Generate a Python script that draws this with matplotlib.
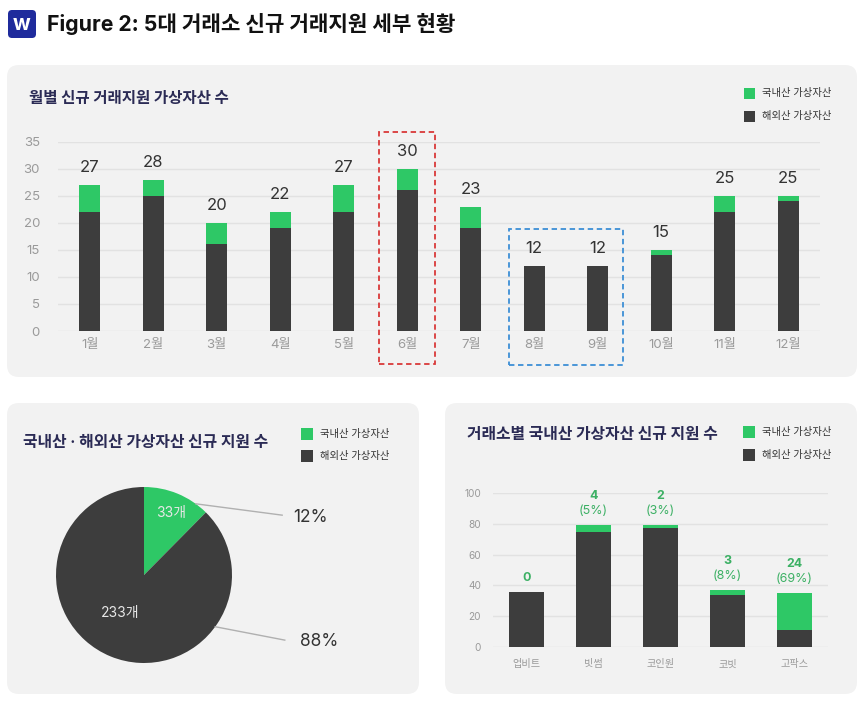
import matplotlib
matplotlib.use('Agg')
import matplotlib.pyplot as plt
from matplotlib.patches import FancyBboxPatch, Rectangle
import numpy as np

plt.rcParams['font.family'] = ['Inter', 'Noto Sans CJK KR', 'DejaVu Sans']

# ---------------- data ----------------
months = ['1월', '2월', '3월', '4월', '5월', '6월', '7월', '8월', '9월', '10월', '11월', '12월']
domestic_monthly = [5, 3, 4, 3, 5, 4, 4, 0, 0, 1, 3, 1]
foreign_monthly = [22, 25, 16, 19, 22, 26, 19, 12, 12, 14, 22, 24]

series_names = ['국내산 가상자산', '해외산 가상자산']
pie_values = [33, 233]

exchanges = ['업비트', '빗썸', '코인원', '코빗', '고팍스']
domestic_ex = [0, 4, 2, 3, 24]
foreign_ex = [36, 75, 77, 34, 11]

month_ticks = [0, 5, 10, 15, 20, 25, 30, 35]
ex_ticks = [0, 20, 40, 60, 80, 100]

# ---------------- style ----------------
GREEN = '#2ec866'
DARK = '#3d3d3d'
NAVY = '#2b2b55'
PANEL = '#f2f2f2'
GRID = '#e2e2e2'
TICK = '#9a9a9a'

W, H = 862, 707
fig = plt.figure(figsize=(W / 100, H / 100), dpi=100)
fig.patch.set_facecolor('white')
bg = fig.add_axes([0, 0, 1, 1])
bg.set_xlim(0, W)
bg.set_ylim(H, 0)
bg.axis('off')


def panel(x0, y0, x1, y1):
    bg.add_patch(FancyBboxPatch((x0, y0), x1 - x0, y1 - y0,
                                boxstyle='round,pad=0,rounding_size=12',
                                fc=PANEL, ec='none'))


def px_axes(x0, y0, x1, y1):
    return fig.add_axes([x0 / W, 1 - y1 / H, (x1 - x0) / W, (y1 - y0) / H])


def legend(x, y0, dy, size, fs):
    for i, (name, col) in enumerate(zip(series_names, [GREEN, DARK])):
        cy = y0 + i * dy
        bg.add_patch(Rectangle((x, cy - size / 2), size, size, fc=col, ec='none'))
        bg.text(x + size + 7, cy, name, fontsize=fs, color='#333333', va='center', ha='left')


def style_axes(ax, ticks, lsize, ypad, xpad):
    ax.set_facecolor('none')
    for s in ax.spines.values():
        s.set_visible(False)
    ax.set_yticks(ticks)
    ax.set_ylim(ticks[0], ticks[-1])
    ax.set_axisbelow(True)
    ax.yaxis.grid(True, color=GRID, lw=1)
    ax.tick_params(axis='both', length=0, colors=TICK, labelsize=lsize)
    ax.tick_params(axis='y', pad=ypad)
    ax.tick_params(axis='x', pad=xpad)


# panels
panel(7, 65, 857, 377)
panel(7, 403, 419, 694)
panel(445, 403, 857, 694)

# header
bg.add_patch(FancyBboxPatch((8, 10), 28, 28, boxstyle='round,pad=0,rounding_size=4',
                            fc='#1f2b9c', ec='none'))
bg.text(22, 24, 'w', color='white', fontsize=15, fontweight='bold', ha='center', va='center')
bg.text(47, 24, 'Figure 2: 5대 거래소 신규 거래지원 세부 현황', fontsize=15.3,
        fontweight='bold', color='#111111', ha='left', va='center')

# ---------------- top chart ----------------
bg.text(29, 99, '월별 신규 거래지원 가상자산 수', fontsize=11.2, fontweight='bold',
        color=NAVY, ha='left', va='center')
legend(744, 93, 23, 11, 7.4)

ax1 = px_axes(58, 141.7, 820, 331)
x = np.arange(len(months))
ax1.bar(x, foreign_monthly, width=0.33, color=DARK)
ax1.bar(x, domestic_monthly, bottom=foreign_monthly, width=0.33, color=GREEN)
totals = [d + f for d, f in zip(domestic_monthly, foreign_monthly)]
for xi, t in zip(x, totals):
    ax1.annotate(str(t), (xi, t), xytext=(0, 12.5), textcoords='offset points',
                 ha='center', va='center', fontsize=12, color='#333333')
ax1.set_xticks(x)
ax1.set_xticklabels(months)
ax1.set_xlim(-0.5, len(months) - 0.5)
style_axes(ax1, month_ticks, 9.5, 13, 6)

# highlight boxes
ax1.add_patch(Rectangle((5 - 0.44, -6.1), 0.88, 42.9, fill=False, ec='#d93a3a',
                        ls=(0, (3, 2)), lw=1.3, clip_on=False))
ax1.add_patch(Rectangle((6.61, -6.3), 1.78, 25.2, fill=False, ec='#3d8fd6',
                        ls=(0, (3, 2)), lw=1.3, clip_on=False))

# ---------------- pie ----------------
bg.text(23, 442, '국내산 · 해외산 가상자산 신규 지원 수', fontsize=11.4, fontweight='bold',
        color=NAVY, ha='left', va='center')
legend(301, 434, 22, 12, 7.4)

ax2 = px_axes(56, 487, 232, 663)
ax2.pie(pie_values, colors=[GREEN, DARK], startangle=90, counterclock=False,
        radius=1, wedgeprops=dict(linewidth=0))
ax2.set_xlim(-1, 1)
ax2.set_ylim(-1, 1)
ax2.set_aspect('equal')
total_pie = sum(pie_values)
inner_pos = [(0.31, 0.70), (-0.27, -0.43)]
line_start_deg = [54, -36]
line_end = [(1.57, 0.68), (1.60, -0.74)]
pct_pos = [(1.69, 0.65), (1.77, -0.76)]
for v, ip, a, le, pp in zip(pie_values, inner_pos, line_start_deg, line_end, pct_pos):
    ax2.text(ip[0], ip[1], f'{v}개', color='#e8e8e8', fontsize=10, ha='center', va='center')
    r = np.deg2rad(a)
    ax2.plot([np.cos(r), le[0]], [np.sin(r), le[1]], color='#b0b0b0', lw=1, clip_on=False)
    ax2.text(pp[0], pp[1], f'{round(v / total_pie * 100)}%', color='#333333',
             fontsize=12.5, ha='left', va='center')

# ---------------- exchange chart ----------------
bg.text(467, 435, '거래소별 국내산 가상자산 신규 지원 수', fontsize=11.4, fontweight='bold',
        color=NAVY, ha='left', va='center')
legend(743, 432, 23, 12, 7.4)

ax3 = px_axes(493, 493, 828, 647)
xe = np.arange(len(exchanges))
ax3.bar(xe, foreign_ex, width=0.53, color=DARK)
ax3.bar(xe, domestic_ex, bottom=foreign_ex, width=0.53, color=GREEN)
for xi, d, f in zip(xe, domestic_ex, foreign_ex):
    t = d + f
    if d > 0:
        ax3.annotate(str(d), (xi, t), xytext=(0, 21), textcoords='offset points',
                     ha='center', va='center', fontsize=9, fontweight='bold', color='#3cb064')
        ax3.annotate(f'({round(d / t * 100)}%)', (xi, t), xytext=(0, 10),
                     textcoords='offset points', ha='center', va='center',
                     fontsize=9, color='#3cb064')
    else:
        ax3.annotate(str(d), (xi, t), xytext=(0, 10), textcoords='offset points',
                     ha='center', va='center', fontsize=9, fontweight='bold', color='#3cb064')
ax3.set_xticks(xe)
ax3.set_xticklabels(exchanges)
ax3.set_xlim(-0.5, len(exchanges) - 0.5)
style_axes(ax3, ex_ticks, 7.3, 8.5, 9)

fig.savefig('out.png', dpi=100, facecolor='white')
